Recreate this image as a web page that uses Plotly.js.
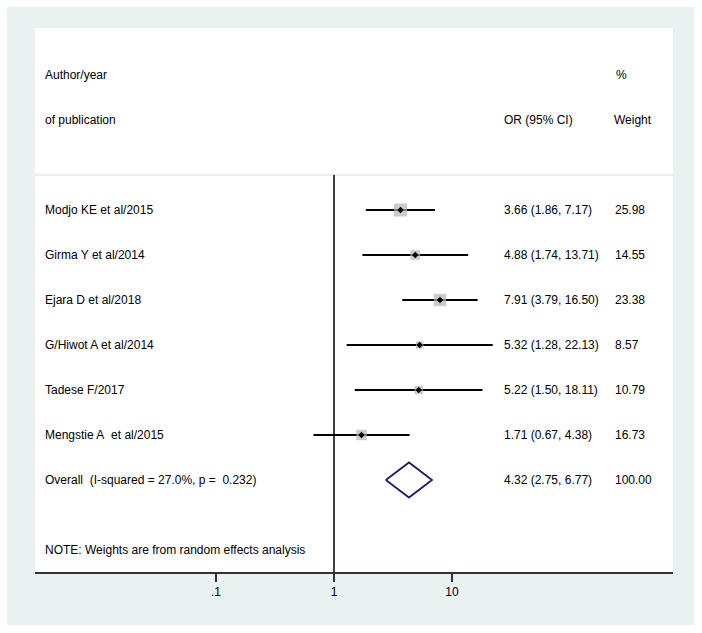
<!DOCTYPE html>
<html>
<head>
<meta charset="utf-8">
<script src="https://cdn.plot.ly/plotly-3.0.1.min.js"></script>
<style>html,body{margin:0;padding:0;background:#fff;}#chart{width:702px;height:633px;}</style>
</head>
<body>
<div id="chart"></div>
<script>
// ---- data ----
const studies = ["Modjo KE et al/2015", "Girma Y et al/2014", "Ejara D et al/2018", "G/Hiwot A et al/2014", "Tadese F/2017", "Mengstie A\u00a0 et al/2015"];
const orValues = [3.66, 4.88, 7.91, 5.32, 5.22, 1.71];
const ciLower = [1.86, 1.74, 3.79, 1.28, 1.50, 0.67];
const ciUpper = [7.17, 13.71, 16.50, 22.13, 18.11, 4.38];
const weights = [25.98, 14.55, 23.38, 8.57, 10.79, 16.73];
const overallLabel = "Overall\u00a0 (I-squared = 27.0%, p =\u00a0 0.232)";
const overallOR = 4.32, overallLo = 2.75, overallHi = 6.77, overallWeight = 100.00;
const tickVals = [0.1, 1, 10];
const tickText = [".1", "1", "10"];
const noteText = "NOTE: Weights are from random effects analysis";

// ---- layout helpers ----
const W = 702, H = 633;
const font = {family: "Liberation Sans, Arial, sans-serif", size: 12, color: "#000"};
const fmt = v => v.toFixed(2);
const overallRow = studies.length;

const traces = [];
// CI lines
const cx = [], cy = [];
studies.forEach((s, i) => { cx.push(ciLower[i], ciUpper[i], null); cy.push(i, i, null); });
traces.push({x: cx, y: cy, mode: "lines", line: {color: "#000", width: 1.8}, hoverinfo: "skip", showlegend: false});
// weight boxes
traces.push({x: orValues, y: studies.map((s, i) => i), mode: "markers",
  marker: {symbol: "square", size: weights.map(w => 2.55 * Math.sqrt(w)), color: "#B5B5B5", line: {width: 0}},
  hoverinfo: "skip", showlegend: false});
// point estimates
traces.push({x: orValues, y: studies.map((s, i) => i), mode: "markers",
  marker: {symbol: "diamond", size: 5, color: "#000", line: {width: 0}}, hoverinfo: "skip", showlegend: false});
// overall diamond
const dh = 0.39;
traces.push({x: [overallLo, overallOR, overallHi, overallOR, overallLo],
  y: [overallRow, overallRow - dh, overallRow, overallRow + dh, overallRow],
  mode: "lines", line: {color: "#1C1C6E", width: 1.8}, hoverinfo: "skip", showlegend: false});

const px = v => v / W;
const annotations = [];
const addText = (xpx, row, text) => annotations.push({xref: "paper", yref: "y", x: px(xpx), y: row, text: text,
  showarrow: false, xanchor: "left", yanchor: "middle", font: font});
addText(43, -3, "Author/year");
addText(43, -2, "of publication");
addText(502, -2, "OR (95% CI)");
addText(614, -3, "%");
addText(612, -2, "Weight");
studies.forEach((s, i) => {
  addText(43, i, s);
  addText(502, i, fmt(orValues[i]) + " (" + fmt(ciLower[i]) + ", " + fmt(ciUpper[i]) + ")");
  addText(613, i, fmt(weights[i]));
});
addText(43, overallRow, overallLabel);
addText(502, overallRow, fmt(overallOR) + " (" + fmt(overallLo) + ", " + fmt(overallHi) + ")");
addText(613, overallRow, fmt(overallWeight));
addText(43, 7.556, noteText);

const yTop = -4.0444, yBot = 8.0444;
const layout = {
  width: W, height: H,
  margin: {l: 0, r: 0, t: 0, b: 0},
  paper_bgcolor: "#fff", plot_bgcolor: "rgba(0,0,0,0)",
  showlegend: false,
  xaxis: {type: "log", domain: [35 / W, 673 / W], range: [-2.5339, 2.8729],
    tickvals: tickVals, ticktext: tickText, ticks: "outside", ticklen: 8, tickwidth: 1.5, tickcolor: "#333",
    showline: true, linecolor: "#333", linewidth: 2, showgrid: false, zeroline: false,
    tickfont: font, fixedrange: true},
  yaxis: {domain: [1 - 572 / H, 1 - 28 / H], range: [yBot, yTop], visible: false, fixedrange: true},
  shapes: [
    {type: "rect", xref: "paper", yref: "paper", x0: 7 / W, x1: 694 / W, y0: 1 - 625 / H, y1: 1 - 7 / H,
      fillcolor: "#EAF1F1", line: {width: 0}, layer: "below"},
    {type: "rect", xref: "paper", yref: "paper", x0: 35 / W, x1: 673 / W, y0: 1 - 572 / H, y1: 1 - 28 / H,
      fillcolor: "#FFFFFF", line: {width: 0}, layer: "below"},
    {type: "line", xref: "paper", yref: "y", x0: 35 / W, x1: 673 / W, y0: -0.778, y1: -0.778,
      line: {color: "#DDDDDD", width: 1}},
    {type: "line", xref: "x", yref: "y", x0: 1, x1: 1, y0: -0.778, y1: yBot,
      line: {color: "#000", width: 1.5}}
  ],
  annotations: annotations
};
Plotly.newPlot("chart", traces, layout, {displayModeBar: false, staticPlot: true});
</script>
</body>
</html>
